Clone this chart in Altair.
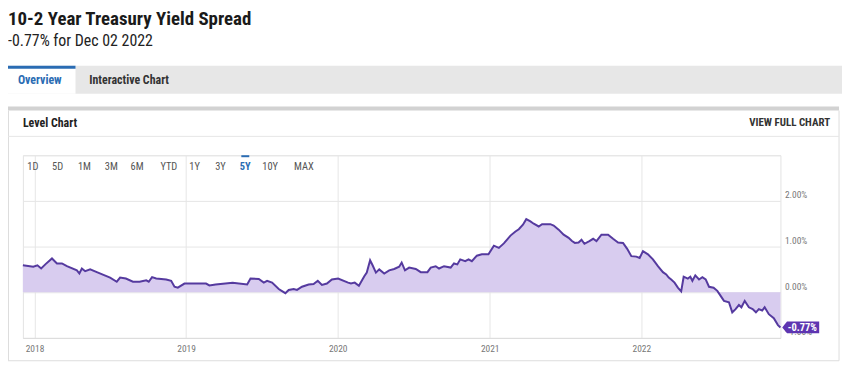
import altair as alt
import pandas as pd

# ---------------- data ----------------
TITLE = "10-2 Year Treasury Yield Spread"
SUBTITLE = "-0.77% for Dec 02 2022"
TABS = ["Overview", "Interactive Chart"]
PANEL_TITLE = "Level Chart"
PANEL_LINK = "VIEW FULL CHART"
RANGE_BUTTONS = ["1D", "5D", "1M", "3M", "6M", "YTD", "1Y", "3Y", "5Y", "10Y", "MAX"]
ACTIVE_BUTTON = "5Y"
YEAR_TICKS = ["2018-01-01", "2019-01-01", "2020-01-01", "2021-01-01", "2022-01-01"]
Y_TICKS = [-1, 0, 1, 2, 3]
LAST_LABEL = "-0.77%"

DATES = [
    "2017-12-04", "2017-12-29", "2018-01-08", "2018-01-17", "2018-01-27", "2018-02-12",
    "2018-02-24", "2018-03-08", "2018-03-20", "2018-04-13", "2018-04-19", "2018-04-25",
    "2018-05-03", "2018-05-15", "2018-05-31", "2018-06-16", "2018-07-02", "2018-07-18",
    "2018-07-26", "2018-08-09", "2018-08-26", "2018-09-11", "2018-09-27", "2018-10-03",
    "2018-10-11", "2018-10-21", "2018-11-14", "2018-11-26", "2018-12-04", "2018-12-12",
    "2018-12-28", "2019-01-17", "2019-02-18", "2019-02-26", "2019-03-13", "2019-04-23",
    "2019-05-28", "2019-06-05", "2019-06-25", "2019-07-07", "2019-07-15", "2019-07-27",
    "2019-08-12", "2019-08-19", "2019-08-28", "2019-09-05", "2019-09-17", "2019-09-25",
    "2019-10-07", "2019-10-23", "2019-11-04", "2019-11-14", "2019-11-24", "2019-12-06",
    "2019-12-18", "2020-01-02", "2020-01-26", "2020-02-02", "2020-02-11", "2020-02-21",
    "2020-03-05", "2020-03-11", "2020-03-19", "2020-03-25", "2020-04-02", "2020-04-10",
    "2020-04-22", "2020-05-04", "2020-05-16", "2020-05-28", "2020-06-03", "2020-06-11",
    "2020-06-21", "2020-07-07", "2020-07-19", "2020-08-04", "2020-08-12", "2020-08-24",
    "2020-09-01", "2020-09-13", "2020-09-29", "2020-10-07", "2020-10-15", "2020-10-22",
    "2020-11-03", "2020-11-11", "2020-11-19", "2020-12-01", "2020-12-13", "2020-12-29",
    "2021-01-11", "2021-01-23", "2021-02-04", "2021-02-20", "2021-03-04", "2021-03-12",
    "2021-03-22", "2021-03-30", "2021-04-09", "2021-04-17", "2021-04-29", "2021-05-07",
    "2021-05-27", "2021-06-04", "2021-06-16", "2021-06-28", "2021-07-10", "2021-07-18",
    "2021-07-25", "2021-08-03", "2021-08-10", "2021-08-17", "2021-08-29", "2021-09-07",
    "2021-09-15", "2021-09-27", "2021-10-13", "2021-10-25", "2021-11-06", "2021-11-18",
    "2021-11-28", "2021-12-08", "2021-12-20", "2021-12-28", "2022-01-05", "2022-01-17",
    "2022-01-29", "2022-02-10", "2022-02-22", "2022-03-02", "2022-03-08", "2022-03-14",
    "2022-03-22", "2022-03-30", "2022-04-07", "2022-04-13", "2022-04-23", "2022-04-29",
    "2022-05-04", "2022-05-11", "2022-05-20", "2022-05-28", "2022-06-05", "2022-06-13",
    "2022-06-24", "2022-07-03", "2022-07-11", "2022-07-19", "2022-07-31", "2022-08-08",
    "2022-08-16", "2022-08-24", "2022-08-30", "2022-09-07", "2022-09-17", "2022-09-26",
    "2022-10-04", "2022-10-11", "2022-10-19", "2022-10-25", "2022-11-04", "2022-11-16",
    "2022-11-26", "2022-12-02",
]
SPREAD = [
    0.59, 0.56, 0.59, 0.52, 0.61, 0.74,
    0.63, 0.63, 0.57, 0.48, 0.41, 0.52,
    0.46, 0.50, 0.44, 0.38, 0.32, 0.23,
    0.32, 0.30, 0.23, 0.23, 0.26, 0.23,
    0.33, 0.30, 0.28, 0.25, 0.12, 0.10,
    0.19, 0.19, 0.19, 0.15, 0.17, 0.21,
    0.17, 0.30, 0.29, 0.21, 0.25, 0.21,
    0.07, 0.03, -0.02, 0.05, 0.07, 0.05,
    0.12, 0.17, 0.18, 0.25, 0.16, 0.19,
    0.28, 0.30, 0.21, 0.19, 0.21, 0.14,
    0.35, 0.43, 0.70, 0.59, 0.43, 0.50,
    0.41, 0.48, 0.51, 0.56, 0.65, 0.48,
    0.54, 0.51, 0.44, 0.44, 0.54, 0.57,
    0.52, 0.57, 0.54, 0.63, 0.61, 0.72,
    0.68, 0.72, 0.68, 0.80, 0.83, 0.83,
    1.02, 0.97, 1.07, 1.24, 1.33, 1.38,
    1.48, 1.60, 1.55, 1.50, 1.44, 1.49,
    1.49, 1.46, 1.37, 1.26, 1.19, 1.12,
    1.08, 1.09, 1.15, 1.06, 1.12, 1.17,
    1.12, 1.26, 1.26, 1.17, 1.09, 1.08,
    0.95, 0.79, 0.78, 0.75, 0.90, 0.83,
    0.72, 0.57, 0.44, 0.39, 0.32, 0.28,
    0.21, 0.10, 0.02, 0.34, 0.30, 0.34,
    0.25, 0.37, 0.28, 0.33, 0.28, 0.12,
    0.10, 0.03, -0.08, -0.19, -0.22, -0.44,
    -0.37, -0.28, -0.33, -0.19, -0.33, -0.37,
    -0.44, -0.37, -0.40, -0.33, -0.48, -0.57,
    -0.72, -0.77,
]

# ---------------- layout / style ----------------
W, H = 763, 184
FONT = "Roboto Condensed, Liberation Sans Narrow, DejaVu Sans Condensed, Roboto, sans-serif"
LINE_COLOR = "#553a9f"
FILL_COLOR = "#d8ccef"
TAG_COLOR = "#5e35b1"
BLUE = "#2a6cb3"
GRID = "#e6e6e6"
BUTTON_X = [10, 35, 62, 89, 115, 147, 173, 199, 224, 249, 283]

df = pd.DataFrame({"date": DATES, "spread": SPREAD})
last = df.tail(1)
one = pd.DataFrame({"k": [0]})

x_scale = alt.Scale(domain=[DATES[0], DATES[-1]])
y_scale = alt.Scale(domain=[-1, 3], nice=False)

x_enc = alt.X(
    "date:T",
    scale=x_scale,
    axis=alt.Axis(
        values=YEAR_TICKS, format="%Y", title=None, grid=True, gridColor=GRID,
        ticks=False, domain=True, domainColor="#dcdcdc", labelFontSize=9.5,
        labelColor="#777", labelFont=FONT, labelPadding=6, labelFlush=False,
    ),
)
y_enc = alt.Y(
    "spread:Q",
    scale=y_scale,
    axis=alt.Axis(
        orient="right", values=Y_TICKS, title=None, grid=True, gridColor=GRID,
        ticks=False, domain=False, labelFontSize=9.5, labelColor="#777", labelFont=FONT,
        labelPadding=4, labelAlign="left", labelBaseline="alphabetic", labelOffset=-3,
        labelExpr="datum.value >= 3 ? '' : format(datum.value, '.2f') + '%'",
    ),
)

area = alt.Chart(df).mark_area(color=FILL_COLOR, opacity=1).encode(
    x=x_enc, y=y_enc, y2=alt.Y2(datum=0)
)
line = alt.Chart(df).mark_line(color=LINE_COLOR, strokeWidth=2).encode(
    x="date:T", y="spread:Q"
)
tag = alt.Chart(last).mark_point(
    shape="M0.3,0L1.1,-1L6.5,-1L6.5,1L1.1,1Z", size=144, filled=True,
    color=TAG_COLOR, opacity=1, strokeWidth=0,
).encode(x="date:T", y="spread:Q")
tag_text = alt.Chart(last).mark_text(
    dx=22, dy=0.5, color="white", fontWeight="bold", fontSize=10.5, font=FONT,
    align="center", baseline="middle",
).encode(x="date:T", y="spread:Q", text=alt.value(LAST_LABEL))


def rect(x, x2, y, y2, color):
    return alt.Chart(one).mark_rect(color=color, opacity=1).encode(
        x=alt.value(x), x2=alt.value(x2), y=alt.value(y), y2=alt.value(y2)
    )


def hrule(x, x2, y, color, w=1):
    return alt.Chart(one).mark_rule(color=color, strokeWidth=w).encode(
        x=alt.value(x), x2=alt.value(x2), y=alt.value(y)
    )


def vrule(x, y, y2, color, w=1):
    return alt.Chart(one).mark_rule(color=color, strokeWidth=w).encode(
        x=alt.value(x), y=alt.value(y), y2=alt.value(y2)
    )


def text(label, x, y, size, color, weight="normal", align="left", baseline="alphabetic"):
    return alt.Chart(one).mark_text(
        fontSize=size, color=color, fontWeight=weight, font=FONT,
        align=align, baseline=baseline,
    ).encode(x=alt.value(x), y=alt.value(y), text=alt.value(label))


decor = [
    # header
    text(TITLE, -15, -146.5, 19, "#1a1a1a", weight="bold", baseline="top"),
    text(SUBTITLE, -15, -110.5, 16, "#222"),
    # tabs
    rect(-15, 835, -90, -62, "#e7e7e7"),
    rect(-15, 53, -90, -62, "#ffffff"),
    rect(-15, 53, -90, -87, BLUE),
    text(TABS[0], 17, -76, 12, BLUE, weight="bold", align="center", baseline="middle"),
    text(TABS[1], 107, -76, 12, "#333", weight="bold", align="center", baseline="middle"),
    # panel
    rect(-15, 822, -49, -45, "#d2d2d2"),
    vrule(-14.5, -45, 207, "#dddddd"),
    vrule(822, -45, 207, "#dddddd"),
    hrule(-15, 822, 207, "#dddddd"),
    hrule(-15, 822, -19, "#e6e6e6"),
    text(PANEL_TITLE, 0, -32, 12, "#222", weight="bold", baseline="middle"),
    text(PANEL_LINK, 813, -32, 11, "#333", weight="bold", align="right", baseline="middle"),
]
for label, bx in zip(RANGE_BUTTONS, BUTTON_X):
    active = label == ACTIVE_BUTTON
    decor.append(
        text(label, bx, 12, 10.5, BLUE if active else "#555",
             weight="bold" if active else "normal", align="center", baseline="middle")
    )
    if active:
        decor.append(rect(bx - 4, bx + 4, 0, 2, BLUE))

chart = alt.layer(area, line, tag, tag_text, *decor).properties(
    width=W, height=H,
    padding={"left": 15, "top": 147, "right": 62, "bottom": 26},
    autosize=alt.AutoSizeParams(type="none"),
    background="white",
).configure_view(stroke="#e3e3e3")

chart.save("out.html", embed_options={"renderer": "svg", "actions": False})
